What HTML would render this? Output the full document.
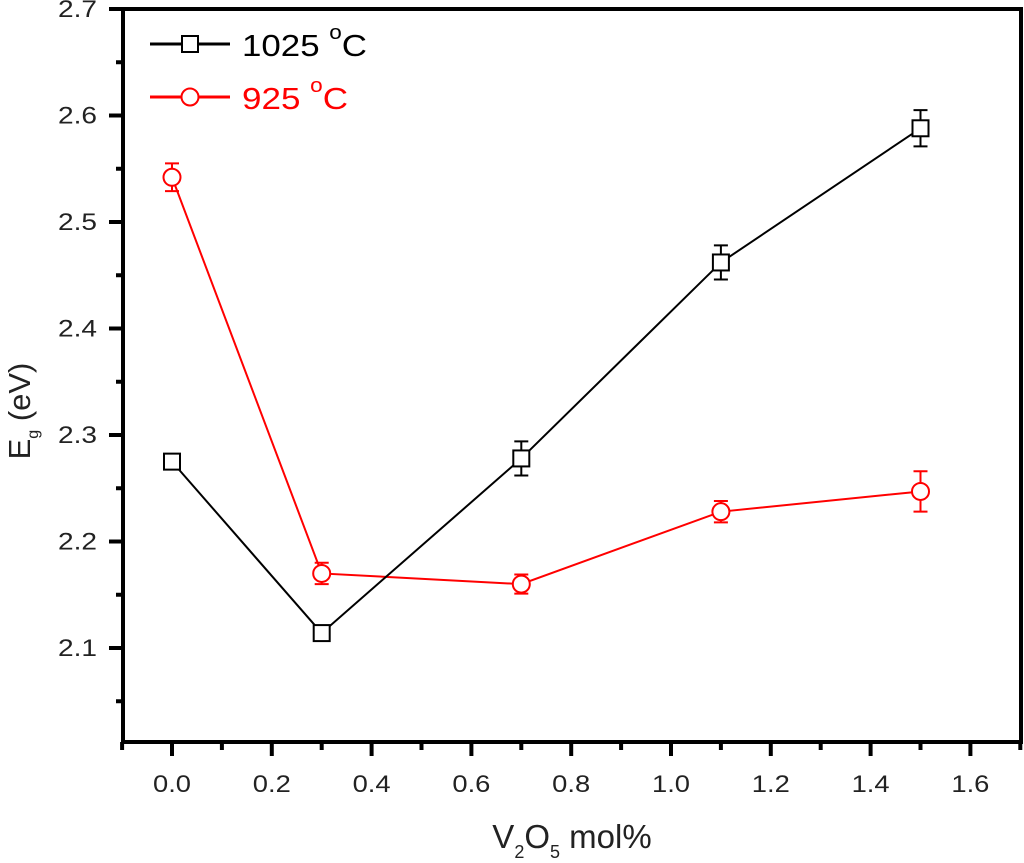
<!DOCTYPE html>
<html><head><meta charset="utf-8"><style>
html,body{margin:0;padding:0;background:#fff;}
svg{display:block;font-family:"Liberation Sans",Arial,sans-serif;}
</style></head><body>
<svg id="chart" width="1024" height="863"></svg>
<script>
const xValues=[0.0,0.3,0.7,1.1,1.5];
const series1025=[2.275,2.114,2.278,2.462,2.588];
const err1025=[0.005,0.006,0.016,0.016,0.017];
const series925=[2.542,2.170,2.160,2.228,2.247];
const err925=[0.013,0.010,0.009,0.010,0.019];
const xTickLabels=["0.0","0.2","0.4","0.6","0.8","1.0","1.2","1.4","1.6"];
const yTickLabels=["2.1","2.2","2.3","2.4","2.5","2.6","2.7"];

const NS="http://www.w3.org/2000/svg";
const svg=document.getElementById('chart');
const L=123,R=1021,T=9,B=742;
const sx=v=>172+(v-0)*499;
const sy=v=>648-(v-2.1)*1065;
function mk(tag,attrs,parent){const e=document.createElementNS(NS,tag);for(const k in attrs)e.setAttribute(k,attrs[k]);(parent||svg).appendChild(e);return e;}
function ts(parent,text,size,dy){const t=document.createElementNS(NS,'tspan');t.textContent=text;if(size)t.setAttribute('style','font-size:'+size+'px');if(dy)t.setAttribute('dy',dy);parent.appendChild(t);return t;}

const frame=mk('path',{d:`M${L},${T} H${R} V${B} H${L} Z`,fill:'none',stroke:'#000','stroke-width':4});



for(let i=-1;i<=17;i++){
  const v=i/10, x=sx(v), major=(i%2===0);
  const t=mk('line',{x1:x,y1:B,x2:x,y2:B+(major?14:8),stroke:'#000','stroke-width':4});
  
  
}
xTickLabels.forEach(s=>{
  const tx=mk('text',{x:sx(parseFloat(s))-19,y:792,style:'font-size:24px',fill:'#222',textLength:38,lengthAdjust:'spacingAndGlyphs'});
  tx.textContent=s;
  
  
});
for(let i=1;i<=14;i++){
  const v=2.0+i*0.05, y=sy(v);
  if(y>B+1)continue;
  const major=(i%2===0);
  const t=mk('line',{x1:L,y1:y,x2:L-(major?14:7),y2:y,stroke:'#000','stroke-width':4});
  
  
}
yTickLabels.forEach(s=>{
  const ty=mk('text',{x:58,y:sy(parseFloat(s))+8,style:'font-size:24px',fill:'#222',textLength:39,lengthAdjust:'spacingAndGlyphs'});
  ty.textContent=s;
  
  
});

const yt=mk('text',{transform:'translate(30,411) rotate(-90)','text-anchor':'middle',style:'font-size:31px',fill:'#222'});
ts(yt,'E');ts(yt,'g',16,'8');ts(yt,' (eV)',null,'-8');


const xt=mk('text',{x:572,y:848,'text-anchor':'middle',style:'font-size:33px',fill:'#222'});
ts(xt,'V');ts(xt,'2',18,'10');ts(xt,'O',null,'-10');ts(xt,'5',18,'10');ts(xt,' mol%',null,'-10');



function drawSeries(vals,errs,color,shape,name){
  const g=mk('g',{});
  
  
  const pts=vals.map((v,i)=>`${sx(xValues[i])},${sy(v)}`).join(' ');
  const pl=mk('polyline',{points:pts,fill:'none',stroke:color,'stroke-width':2},g);
  
  
  vals.forEach((v,i)=>{
    const x=sx(xValues[i]),y=sy(v),y1=sy(v+errs[i]),y2=sy(v-errs[i]);
    const eb=mk('path',{d:`M${x},${y1}V${y2}M${x-7},${y1}H${x+7}M${x-7},${y2}H${x+7}`,stroke:color,'stroke-width':2,fill:'none'},g);
    
    
    let m;
    if(shape==='sq') m=mk('rect',{x:x-8,y:y-8,width:16,height:16,fill:'#fff',stroke:color,'stroke-width':2},g);
    else m=mk('circle',{cx:x,cy:y,r:8.5,fill:'#fff',stroke:color,'stroke-width':2},g);
    
    
  });
}
drawSeries(series925,err925,'#ff0000','ci','series-925');
drawSeries(series1025,err1025,'#000','sq','series-1025');

function legend(y,color,shape,label,name,w){
  const g=mk('g',{});
  
  
  mk('line',{x1:150,y1:y,x2:230,y2:y,stroke:color,'stroke-width':3},g);
  if(shape==='sq') mk('rect',{x:182,y:y-8,width:16,height:16,fill:'#fff',stroke:color,'stroke-width':2},g);
  else mk('circle',{cx:190,cy:y,r:8.5,fill:'#fff',stroke:color,'stroke-width':2},g);
  const t=mk('text',{x:242,y:y+12,style:'font-size:31px',fill:color,textLength:w,lengthAdjust:'spacingAndGlyphs'},g);
  ts(t,label+' ');ts(t,'o',20,'-17');ts(t,'C',null,'17');
}
legend(44,'#000','sq','1025','legend-entry-1025',125);
legend(97,'#ff0000','ci','925','legend-entry-925',106);
</script>
</body></html>
